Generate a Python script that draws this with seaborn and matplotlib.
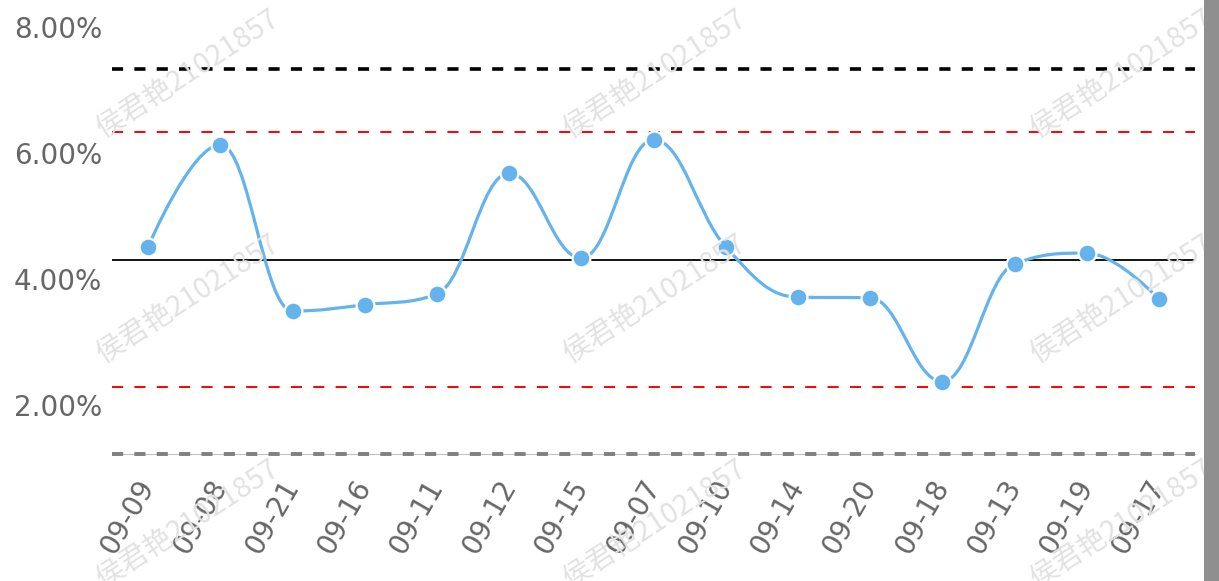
import matplotlib
matplotlib.use('Agg')
import matplotlib.pyplot as plt
from matplotlib.path import Path
from matplotlib.patches import PathPatch, Rectangle
import seaborn as sns
import pandas as pd

# data (percent)
dates = ['09-09', '09-08', '09-21', '09-16', '09-11', '09-12', '09-15', '09-07',
         '09-10', '09-14', '09-20', '09-18', '09-13', '09-19', '09-17']
rates = [4.51, 6.13, 3.49, 3.59, 3.76, 5.68, 4.33, 6.21,
         4.51, 3.71, 3.70, 2.37, 4.24, 4.41, 3.68]
mean_line = 4.30
ucl_2 = 6.33
lcl_2 = 2.29
ucl_3 = 7.33
lcl_3 = 1.22
y_ticks = [2, 4, 6, 8]
watermark = '侯君艳21021857'

df = pd.DataFrame({'date': dates, 'rate': rates})
df['pos'] = range(len(df))

sns.set_style('white')
plt.rcParams['font.family'] = ['DejaVu Sans']
plt.rcParams['lines.scale_dashes'] = False

fig = plt.figure(figsize=(12.19, 5.81), dpi=100)
ax = fig.add_axes([112 / 1219, 127 / 581, 1083 / 1219, 427 / 581])
ax.set_facecolor('none')

# watermarks behind everything
for cx in [188, 655, 1122]:
    for cy in [74, 299, 524]:
        fig.text(cx / 1219, 1 - cy / 581, watermark, rotation=33, ha='center', va='center',
                 rotation_mode='anchor', fontsize=20.5, color='#e2e2e2',
                 family=['Noto Sans CJK SC', 'DejaVu Sans'], zorder=0)

# control lines
ax.axhline(ucl_3, color='black', lw=2.6, dashes=(8, 8.1), zorder=2)
ax.axhline(ucl_2, color='#ff0000', lw=1.4, dashes=(8, 8.1), zorder=2)
ax.axhline(mean_line, color='black', lw=1.3, zorder=2)
ax.axhline(lcl_2, color='#ff0000', lw=1.4, dashes=(8, 8.1), zorder=2)
ax.axhline(lcl_3, color='#808080', lw=2.8, dashes=(8, 8.1), zorder=3, clip_on=False)

# spline like highcharts (smoothing 1.5)
xs = list(df['pos'])
ys = list(df['rate'])
n = len(xs)
left_c = [None] * n
right_c = [None] * n
smoothing = 1.5
denom = smoothing + 1
for i in range(1, n - 1):
    px, py = xs[i], ys[i]
    lx, ly = xs[i - 1], ys[i - 1]
    nx, ny = xs[i + 1], ys[i + 1]
    lcx = (smoothing * px + lx) / denom
    lcy = (smoothing * py + ly) / denom
    rcx = (smoothing * px + nx) / denom
    rcy = (smoothing * py + ny) / denom
    corr = (rcy - lcy) * (rcx - px) / (rcx - lcx) + py - rcy
    lcy += corr
    rcy += corr
    if lcy > ly and lcy > py:
        lcy = max(ly, py)
        rcy = 2 * py - lcy
    elif lcy < ly and lcy < py:
        lcy = min(ly, py)
        rcy = 2 * py - lcy
    if rcy > ny and rcy > py:
        rcy = max(ny, py)
        lcy = 2 * py - rcy
    elif rcy < ny and rcy < py:
        rcy = min(ny, py)
        lcy = 2 * py - rcy
    left_c[i] = (lcx, lcy)
    right_c[i] = (rcx, rcy)

verts = [(xs[0], ys[0])]
codes = [Path.MOVETO]
for i in range(1, n):
    c1 = right_c[i - 1] or (xs[i - 1], ys[i - 1])
    c2 = left_c[i] or (xs[i], ys[i])
    verts += [c1, c2, (xs[i], ys[i])]
    codes += [Path.CURVE4] * 3
ax.add_patch(PathPatch(Path(verts, codes), facecolor='none', edgecolor='#65b3ec',
                       lw=2.3, zorder=4, capstyle='round', joinstyle='round'))

sns.scatterplot(data=df, x='pos', y='rate', s=165, color='#65b3ec', edgecolor='white',
                linewidth=1.6, zorder=5, ax=ax, clip_on=False)

ax.set_xlim(-0.5, n - 0.5)
ax.set_ylim(lcl_3, 8.0)
ax.set_xlabel(None)
ax.set_ylabel(None)

for s in ['top', 'right', 'left']:
    ax.spines[s].set_visible(False)
ax.spines['bottom'].set_color('#c0c0c0')
ax.spines['bottom'].set_linewidth(0.8)

ax.set_xticks(range(n))
ax.set_xticklabels(dates)
ax.set_xticks([i - 0.5 for i in range(n + 1)], minor=True)
ax.tick_params(axis='x', which='major', length=0, pad=20, labelsize=20, labelcolor='#666666')
ax.tick_params(axis='x', which='minor', length=5, width=0.8, color='#c0c0c0', direction='out')
plt.setp(ax.get_xticklabels(), rotation=60, ha='right', va='center', rotation_mode='anchor')

ax.set_yticks(y_ticks)
ax.set_yticklabels(['{:.2f}%'.format(v) for v in y_ticks])
ax.tick_params(axis='y', length=0, pad=7, labelsize=20, labelcolor='#666666')

# grey strip at right edge of the screenshot
fig.patches.append(Rectangle((1204 / 1219, 0), 15 / 1219, 1, transform=fig.transFigure,
                             facecolor='#8f8f8f', edgecolor='none', zorder=10))

plt.savefig('out.png', dpi=100)
